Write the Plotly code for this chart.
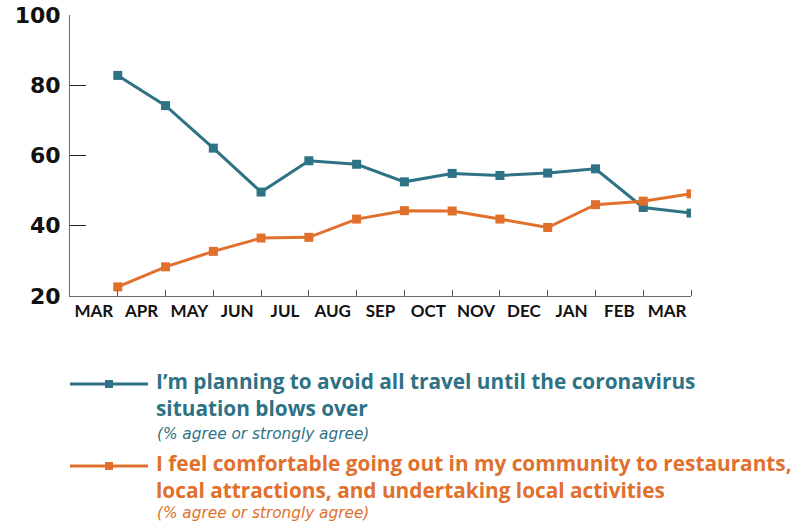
import plotly.graph_objects as go

# Month slots along the x axis (survey waves fall at the end of each slot)
months = ["MAR", "APR", "MAY", "JUN", "JUL", "AUG", "SEP",
          "OCT", "NOV", "DEC", "JAN", "FEB", "MAR"]
wave = list(range(1, 14))

# % agree or strongly agree
avoid_travel = [82.8, 74.2, 62.1, 49.6, 58.5, 57.5, 52.5,
                54.9, 54.3, 55.0, 56.2, 45.2, 43.6]
comfortable_local = [22.6, 28.3, 32.7, 36.5, 36.7, 41.9, 44.3,
                     44.2, 41.9, 39.5, 46.0, 47.0, 49.1]

y_ticks = [20, 40, 60, 80, 100]

TEAL = "#2E7285"
ORANGE = "#E0702C"

W, H = 807, 522
L, R, T, B = 70, 116, 15, 226
PW, PH = W - L - R, H - T - B


def px(x):
    return (x - L) / PW


def py(y):
    return (H - B - y) / PH


fig = go.Figure()
for vals, col in [(avoid_travel, TEAL), (comfortable_local, ORANGE)]:
    fig.add_trace(go.Scatter(
        x=wave, y=vals, mode="lines+markers",
        line=dict(color=col, width=3),
        marker=dict(symbol="square", size=9, color=col),
        showlegend=False, hoverinfo="x+y",
    ))

fig.update_layout(
    width=W, height=H,
    margin=dict(l=L, r=R, t=T, b=B),
    paper_bgcolor="white", plot_bgcolor="white",
    xaxis=dict(
        range=[0, 13], tickmode="array",
        tickvals=[i + 0.5 for i in range(len(months))], ticktext=months,
        ticks="", showgrid=False, zeroline=False, automargin=False,
        showline=True, linecolor="#6b6b6b", linewidth=1,
        tickfont=dict(family="Lato", size=17, color="#111111", weight="bold"),
        minor=dict(tickmode="array", tickvals=wave, ticks="inside",
                   ticklen=6, tickwidth=1, tickcolor="#555555", showgrid=False),
        fixedrange=True,
    ),
    yaxis=dict(
        range=[20, 100], tickmode="array", tickvals=y_ticks,
        ticks="inside", ticklen=16, tickwidth=1, tickcolor="#222222",
        showgrid=False, zeroline=False, automargin=False,
        showline=True, linecolor="#6b6b6b", linewidth=1,
        tickfont=dict(family="DejaVu Sans", size=22, color="#111111", weight="bold"),
        ticklabelstandoff=4,
        fixedrange=True,
    ),
)

# Custom legend: line-and-marker keys with wrapped descriptions
legend_items = [
    (TEAL, 384, 434, "I’m planning to avoid all travel until the coronavirus<br>situation blows over"),
    (ORANGE, 466, 512.5, "I feel comfortable going out in my community to restaurants,<br>local attractions, and undertaking local activities"),
]
for col, ky, note_y, label in legend_items:
    fig.add_shape(type="line", xref="paper", yref="paper",
                  x0=px(70), x1=px(148), y0=py(ky), y1=py(ky),
                  line=dict(color=col, width=3))
    fig.add_shape(type="rect", xref="paper", yref="paper",
                  x0=px(105), x1=px(113), y0=py(ky - 4), y1=py(ky + 4),
                  line=dict(width=0), fillcolor=col)
    fig.add_annotation(xref="paper", yref="paper", x=px(155), y=py(ky - 18),
                       xanchor="left", yanchor="top", align="left",
                       showarrow=False, text=label, borderpad=0,
                       font=dict(family="Open Sans", size=20.8, color=col, weight=700))
    fig.add_annotation(xref="paper", yref="paper", x=px(156), y=py(note_y),
                       xanchor="left", yanchor="middle", align="left",
                       showarrow=False, text="<i>(% agree or strongly agree)</i>",
                       borderpad=0,
                       font=dict(family="DejaVu Sans", size=15.3, color=col, weight=200))

fig.write_html("out.html")
